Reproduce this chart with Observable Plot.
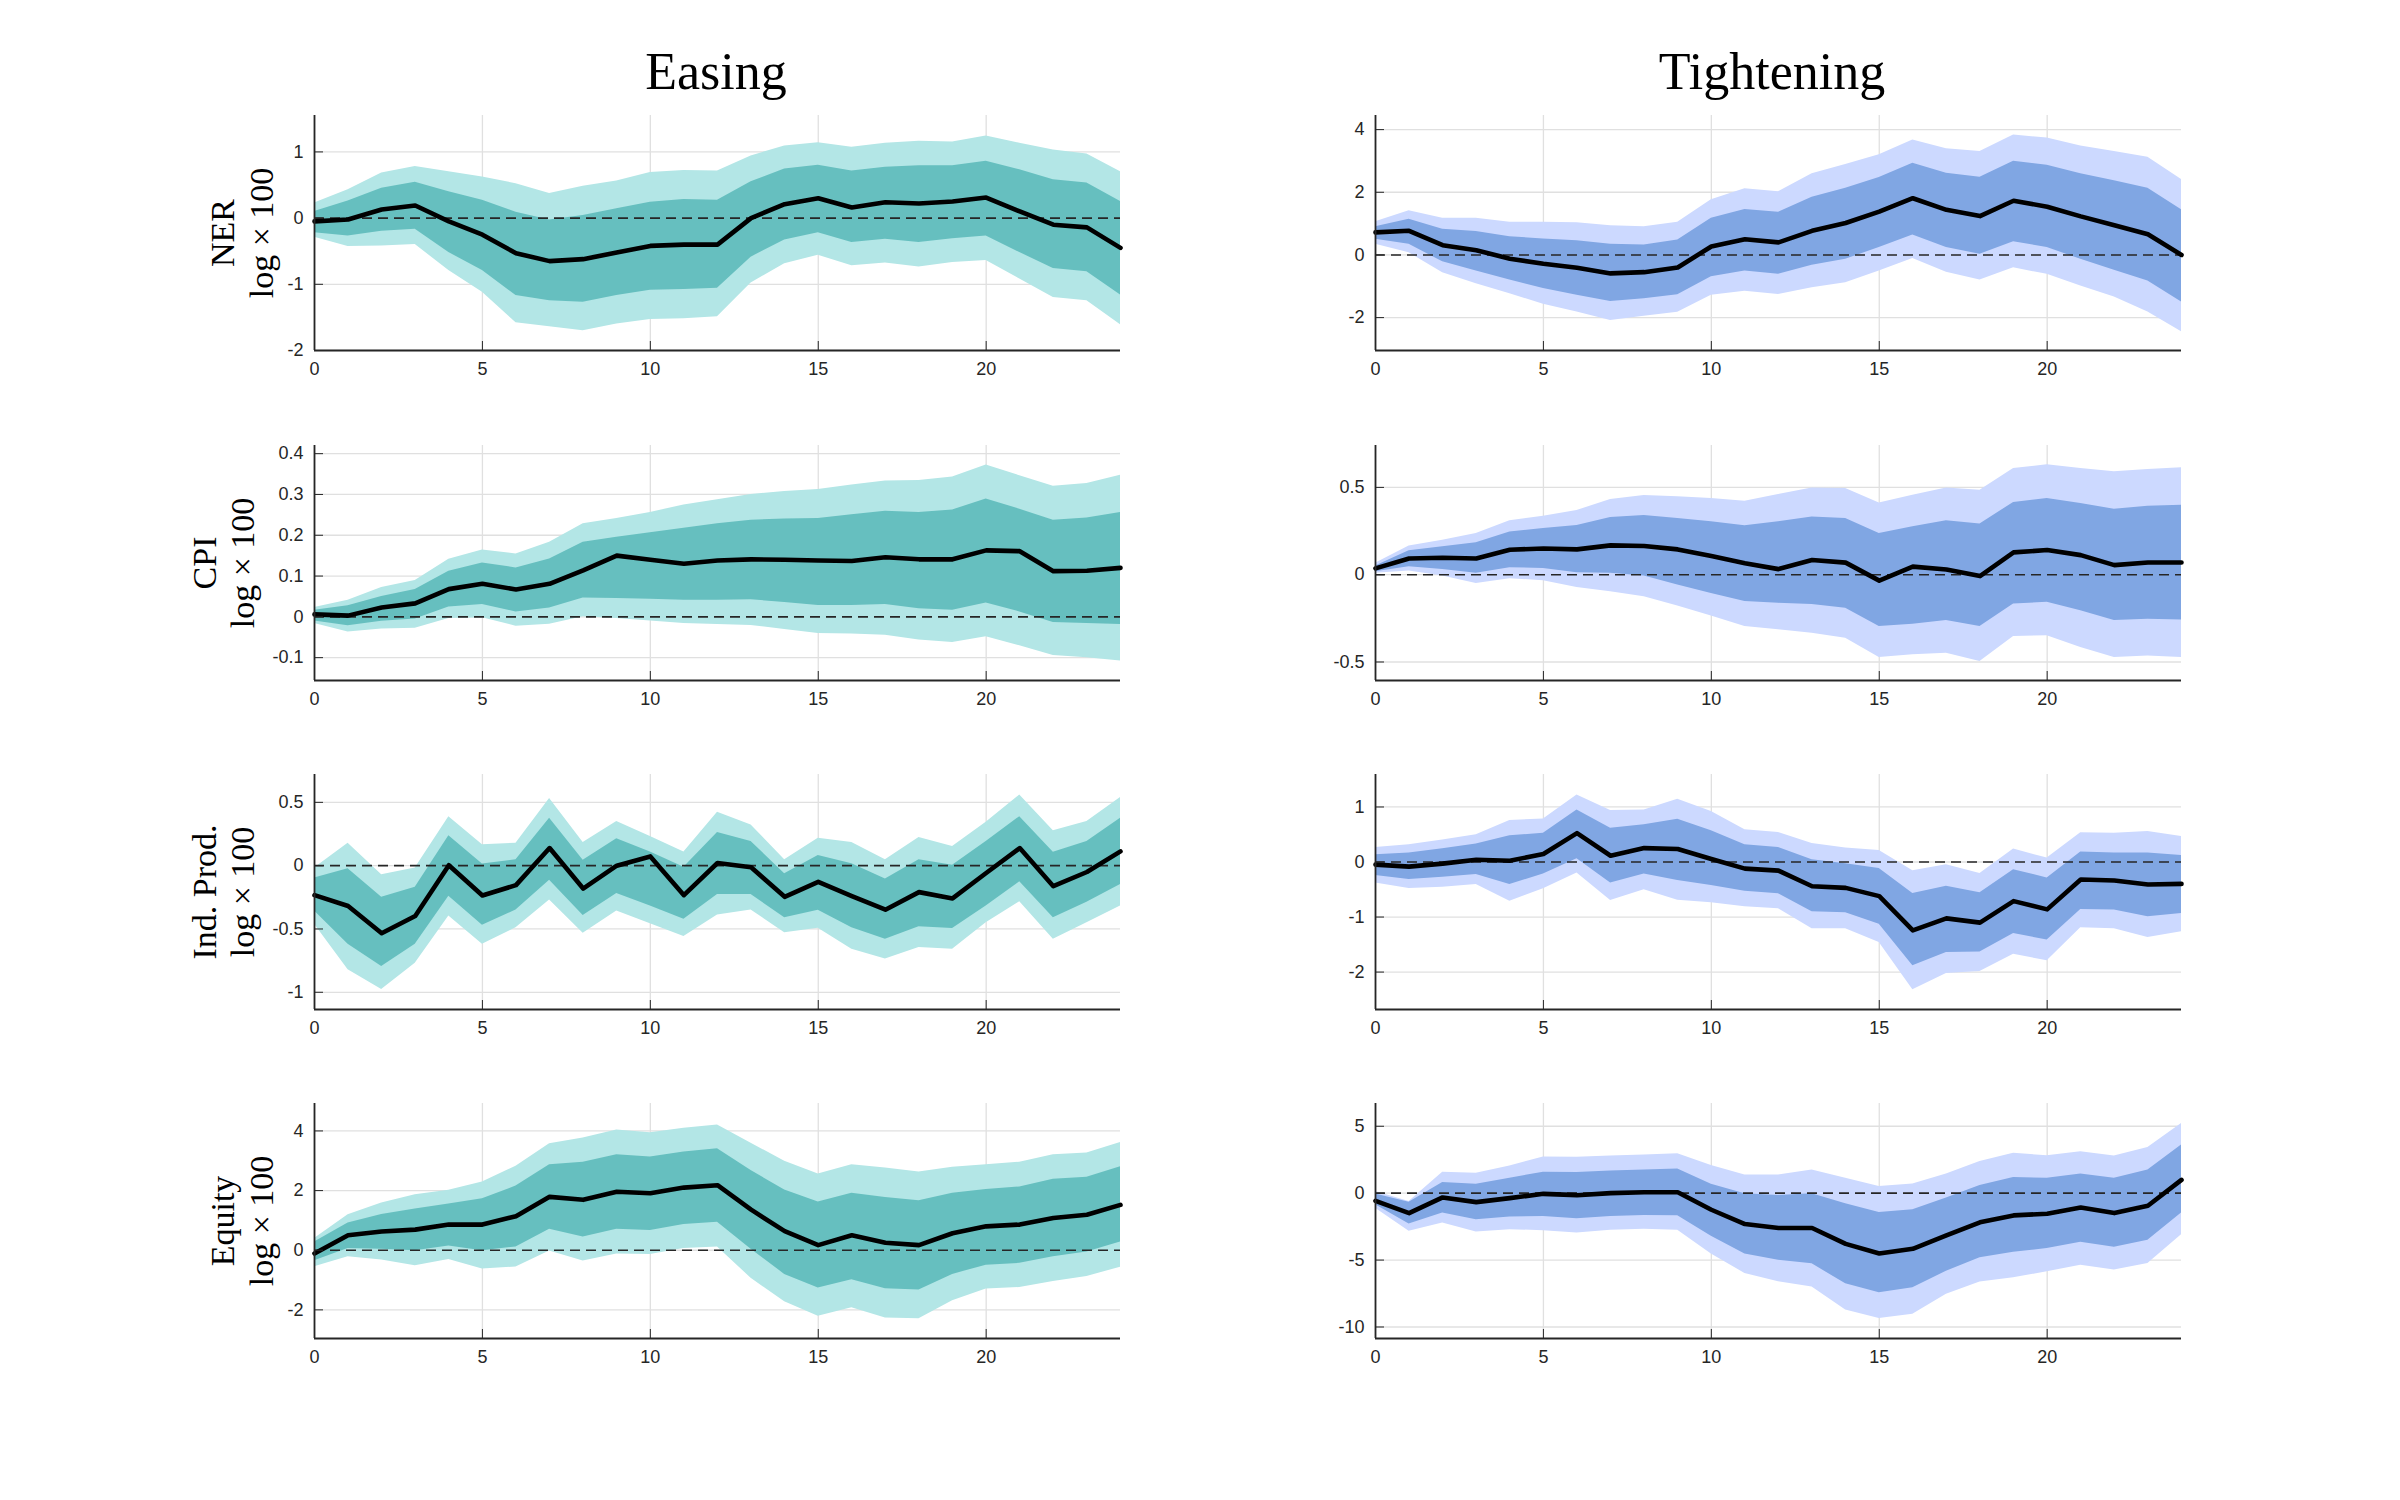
<!DOCTYPE html>
<html><head><meta charset="utf-8">
<script src="https://cdn.jsdelivr.net/npm/d3@7"></script>
<script src="https://cdn.jsdelivr.net/npm/@observablehq/plot@0.6"></script>
<style>
html,body{margin:0;padding:0;background:#fff;}
#wrap{position:relative;width:2400px;height:1500px;background:#fff;overflow:hidden;}
.title{position:absolute;font-family:"Liberation Serif",serif;font-size:52px;color:#000;transform:translate(-50%,0);white-space:nowrap;line-height:1;}
.ylab{position:absolute;font-family:"Liberation Serif",serif;font-size:34px;color:#000;transform:translate(-50%,-50%) rotate(-90deg);white-space:nowrap;line-height:1;}
.panel{position:absolute;}
</style></head><body><div id="wrap"></div>
<script>
// ---------- data ----------
const horizon = [0,1,2,3,4,5,6,7,8,9,10,11,12,13,14,15,16,17,18,19,20,21,22,23,24];
const xTicks = [0,5,10,15,20];
const columnTitles = ["Easing", "Tightening"];
const rowLabels = ["NER", "CPI", "Ind. Prod.", "Equity"];
const unitLabel = "log \u00d7 100";

// NER – Easing
const nerEaseMed   = [-0.05,-0.02,0.13,0.19,-0.05,-0.25,-0.53,-0.65,-0.62,-0.52,-0.42,-0.40,-0.40,0.00,0.21,0.30,0.16,0.24,0.22,0.25,0.31,0.10,-0.10,-0.14,-0.45];
const nerEaseInHi  = [0.10,0.26,0.45,0.54,0.40,0.27,0.09,-0.03,0.04,0.14,0.24,0.28,0.27,0.55,0.74,0.80,0.71,0.77,0.79,0.79,0.86,0.73,0.58,0.53,0.25];
const nerEaseInLo  = [-0.22,-0.27,-0.20,-0.17,-0.52,-0.79,-1.17,-1.25,-1.27,-1.17,-1.09,-1.08,-1.06,-0.59,-0.33,-0.22,-0.37,-0.32,-0.37,-0.31,-0.27,-0.52,-0.76,-0.81,-1.16];
const nerEaseOutHi = [0.23,0.43,0.68,0.78,0.70,0.62,0.52,0.37,0.48,0.56,0.69,0.72,0.71,0.94,1.09,1.14,1.07,1.13,1.16,1.15,1.24,1.13,1.03,0.97,0.70];
const nerEaseOutLo = [-0.29,-0.43,-0.42,-0.40,-0.79,-1.12,-1.58,-1.64,-1.70,-1.60,-1.53,-1.52,-1.49,-0.98,-0.69,-0.56,-0.72,-0.68,-0.74,-0.67,-0.64,-0.92,-1.20,-1.25,-1.61];

// NER – Tightening
const nerTightMed   = [0.72,0.77,0.31,0.15,-0.12,-0.28,-0.41,-0.59,-0.55,-0.40,0.27,0.50,0.40,0.77,1.02,1.38,1.81,1.44,1.24,1.73,1.54,1.23,0.95,0.66,0.00];
const nerTightInHi  = [0.90,1.14,0.82,0.75,0.58,0.51,0.45,0.34,0.32,0.48,1.17,1.45,1.36,1.84,2.13,2.47,2.93,2.61,2.48,2.99,2.86,2.59,2.37,2.13,1.44];
const nerTightInLo  = [0.50,0.34,-0.22,-0.51,-0.80,-1.07,-1.29,-1.49,-1.40,-1.27,-0.70,-0.51,-0.62,-0.33,-0.14,0.24,0.64,0.24,0.02,0.42,0.24,-0.14,-0.49,-0.83,-1.50];
const nerTightOutHi = [1.06,1.41,1.17,1.17,1.04,1.04,1.03,0.93,0.90,1.04,1.76,2.11,2.02,2.59,2.89,3.20,3.67,3.39,3.30,3.83,3.73,3.48,3.30,3.12,2.41];
const nerTightOutLo = [0.34,0.07,-0.57,-0.92,-1.24,-1.57,-1.82,-2.09,-1.96,-1.83,-1.29,-1.16,-1.26,-1.05,-0.89,-0.51,-0.11,-0.55,-0.80,-0.41,-0.62,-0.99,-1.34,-1.82,-2.45];

// CPI – Easing
const cpiEaseMed   = [0.006,0.003,0.023,0.033,0.068,0.081,0.067,0.081,0.114,0.150,0.140,0.130,0.138,0.141,0.140,0.138,0.137,0.146,0.141,0.141,0.163,0.161,0.112,0.113,0.120];
const cpiEaseInHi  = [0.016,0.027,0.050,0.067,0.112,0.132,0.120,0.142,0.183,0.195,0.206,0.217,0.228,0.237,0.240,0.241,0.250,0.259,0.256,0.262,0.289,0.264,0.237,0.242,0.256];
const cpiEaseInLo  = [-0.010,-0.022,-0.011,-0.005,0.024,0.030,0.012,0.022,0.046,0.045,0.043,0.041,0.041,0.042,0.035,0.028,0.028,0.030,0.020,0.016,0.034,0.012,-0.014,-0.016,-0.019];
const cpiEaseOutHi = [0.023,0.041,0.072,0.089,0.141,0.164,0.154,0.183,0.228,0.241,0.256,0.274,0.287,0.300,0.307,0.312,0.323,0.333,0.334,0.343,0.372,0.346,0.320,0.327,0.347];
const cpiEaseOutLo = [-0.016,-0.037,-0.030,-0.028,-0.004,-0.002,-0.023,-0.018,0.000,-0.004,-0.010,-0.016,-0.019,-0.021,-0.031,-0.041,-0.042,-0.045,-0.057,-0.063,-0.049,-0.071,-0.095,-0.100,-0.108];

// CPI – Tightening
const cpiTightMed   = [0.036,0.093,0.097,0.093,0.143,0.150,0.145,0.168,0.164,0.145,0.107,0.065,0.032,0.084,0.069,-0.034,0.046,0.030,-0.008,0.128,0.141,0.112,0.055,0.070,0.070];
const cpiTightInHi  = [0.050,0.137,0.160,0.183,0.244,0.265,0.282,0.328,0.339,0.322,0.303,0.280,0.303,0.331,0.322,0.236,0.274,0.309,0.290,0.414,0.436,0.408,0.375,0.392,0.398];
const cpiTightInLo  = [0.017,0.046,0.030,0.008,0.040,0.036,0.011,0.008,-0.008,-0.059,-0.107,-0.154,-0.164,-0.170,-0.192,-0.297,-0.284,-0.263,-0.297,-0.168,-0.158,-0.206,-0.263,-0.255,-0.259];
const cpiTightOutHi = [0.065,0.164,0.198,0.236,0.309,0.335,0.368,0.430,0.453,0.446,0.436,0.421,0.459,0.497,0.493,0.411,0.455,0.497,0.484,0.608,0.630,0.608,0.589,0.602,0.613];
const cpiTightOutLo = [0.008,0.021,-0.008,-0.050,-0.023,-0.034,-0.074,-0.097,-0.126,-0.179,-0.236,-0.297,-0.316,-0.335,-0.364,-0.474,-0.459,-0.450,-0.497,-0.354,-0.350,-0.417,-0.474,-0.465,-0.474];

// Ind. Prod. – Easing
const ipEaseMed   = [-0.233,-0.319,-0.534,-0.398,0.003,-0.236,-0.154,0.139,-0.181,0.000,0.073,-0.233,0.021,-0.013,-0.246,-0.128,-0.241,-0.348,-0.209,-0.259,-0.058,0.139,-0.162,-0.050,0.113];
const ipEaseInHi  = [-0.097,-0.024,-0.249,-0.170,0.236,0.013,0.047,0.374,0.042,0.212,0.107,-0.013,0.262,0.191,-0.063,0.081,0.016,-0.105,0.047,0.003,0.191,0.387,0.105,0.191,0.374];
const ipEaseInLo  = [-0.359,-0.620,-0.796,-0.620,-0.241,-0.471,-0.351,-0.115,-0.393,-0.220,-0.319,-0.424,-0.228,-0.228,-0.411,-0.353,-0.490,-0.581,-0.482,-0.497,-0.319,-0.128,-0.411,-0.288,-0.149];
const ipEaseOutHi = [-0.018,0.178,-0.071,-0.018,0.387,0.165,0.178,0.531,0.183,0.348,0.230,0.107,0.421,0.322,0.047,0.217,0.183,0.047,0.223,0.152,0.343,0.558,0.275,0.348,0.539];
const ipEaseOutLo = [-0.463,-0.822,-0.979,-0.770,-0.398,-0.620,-0.490,-0.272,-0.534,-0.359,-0.458,-0.560,-0.390,-0.351,-0.529,-0.495,-0.660,-0.738,-0.647,-0.660,-0.450,-0.285,-0.581,-0.450,-0.319];

// Ind. Prod. – Tightening
const ipTightMed   = [-0.048,-0.084,-0.030,0.042,0.024,0.145,0.524,0.114,0.253,0.235,0.054,-0.120,-0.157,-0.440,-0.470,-0.620,-1.241,-1.024,-1.102,-0.711,-0.861,-0.319,-0.337,-0.410,-0.398];
const ipTightInHi  = [0.133,0.163,0.241,0.325,0.476,0.524,0.946,0.614,0.675,0.777,0.566,0.313,0.265,0.042,-0.030,-0.120,-0.572,-0.440,-0.560,-0.139,-0.289,0.181,0.163,0.163,0.120];
const ipTightInLo  = [-0.247,-0.319,-0.277,-0.229,-0.410,-0.217,0.060,-0.380,-0.217,-0.337,-0.428,-0.530,-0.578,-0.904,-0.922,-1.133,-1.886,-1.645,-1.633,-1.301,-1.416,-0.861,-0.873,-0.994,-0.934];
const ipTightOutHi = [0.265,0.313,0.398,0.494,0.753,0.783,1.217,0.934,0.946,1.139,0.916,0.584,0.536,0.337,0.253,0.211,-0.157,-0.048,-0.211,0.235,0.072,0.530,0.524,0.554,0.464];
const ipTightOutLo = [-0.380,-0.482,-0.458,-0.410,-0.711,-0.488,-0.199,-0.699,-0.506,-0.693,-0.741,-0.813,-0.849,-1.211,-1.211,-1.464,-2.319,-2.024,-1.988,-1.675,-1.795,-1.193,-1.211,-1.373,-1.265];

// Equity – Easing
const eqEaseMed   = [-0.11,0.50,0.63,0.69,0.86,0.86,1.14,1.79,1.69,1.96,1.91,2.10,2.18,1.36,0.64,0.17,0.50,0.25,0.17,0.57,0.80,0.86,1.08,1.19,1.52];
const eqEaseInHi  = [0.28,0.91,1.20,1.38,1.55,1.73,2.15,2.87,2.95,3.20,3.13,3.29,3.40,2.67,2.02,1.62,1.91,1.77,1.66,1.91,2.04,2.12,2.38,2.45,2.80];
const eqEaseInLo  = [-0.35,0.06,0.03,-0.02,0.14,-0.02,0.11,0.70,0.44,0.70,0.66,0.86,0.94,0.03,-0.81,-1.27,-0.99,-1.29,-1.33,-0.81,-0.50,-0.44,-0.22,-0.06,0.28];
const eqEaseOutHi = [0.39,1.19,1.58,1.86,2.01,2.29,2.82,3.57,3.76,4.03,3.94,4.09,4.20,3.59,2.98,2.56,2.87,2.76,2.62,2.78,2.87,2.95,3.20,3.26,3.61];
const eqEaseOutLo = [-0.55,-0.22,-0.33,-0.52,-0.31,-0.63,-0.56,-0.03,-0.36,-0.13,-0.14,0.06,0.11,-0.94,-1.73,-2.21,-1.93,-2.27,-2.30,-1.69,-1.30,-1.25,-1.05,-0.88,-0.57];

// Equity – Tightening
const eqTightMed   = [-0.57,-1.49,-0.32,-0.67,-0.37,-0.05,-0.15,0.00,0.07,0.07,-1.24,-2.31,-2.60,-2.60,-3.79,-4.51,-4.16,-3.15,-2.18,-1.66,-1.54,-1.07,-1.49,-0.94,0.99];
const eqTightInHi  = [-0.07,-0.67,0.79,0.67,1.12,1.56,1.54,1.66,1.74,1.81,0.67,-0.05,-0.17,-0.05,-0.79,-1.44,-1.24,-0.37,0.57,1.17,1.12,1.44,1.12,1.74,3.60];
const eqTightInLo  = [-0.87,-2.31,-1.49,-1.98,-1.78,-1.74,-1.91,-1.74,-1.66,-1.69,-3.22,-4.54,-5.01,-5.28,-6.77,-7.44,-7.07,-5.83,-4.83,-4.41,-4.14,-3.67,-4.04,-3.52,-1.49];
const eqTightOutHi = [0.12,-0.62,1.56,1.49,2.03,2.70,2.68,2.78,2.85,2.95,2.06,1.36,1.36,1.74,1.12,0.50,0.69,1.44,2.36,2.98,2.80,3.10,2.78,3.42,5.21];
const eqTightOutLo = [-1.12,-2.85,-2.23,-2.90,-2.73,-2.80,-2.98,-2.78,-2.70,-2.78,-4.54,-6.00,-6.62,-7.02,-8.73,-9.37,-9.05,-7.56,-6.64,-6.32,-5.88,-5.38,-5.75,-5.26,-3.10];

// axis limits and tick values per panel
const nerEaseDomain = [-2, 1.55],     nerEaseTicks = [-2,-1,0,1];
const nerTightDomain = [-3.05, 4.45], nerTightTicks = [-2,0,2,4];
const cpiEaseDomain = [-0.156, 0.42], cpiEaseTicks = [-0.1,0,0.1,0.2,0.3,0.4];
const cpiTightDomain = [-0.606, 0.74],cpiTightTicks = [-0.5,0,0.5];
const ipEaseDomain = [-1.136, 0.72],  ipEaseTicks = [-1,-0.5,0,0.5];
const ipTightDomain = [-2.68, 1.59],  ipTightTicks = [-2,-1,0,1];
const eqEaseDomain = [-2.96, 4.92],   eqEaseTicks = [-2,0,2,4];
const eqTightDomain = [-10.86, 6.7],  eqTightTicks = [-10,-5,0,5];

// ---------- styling / layout ----------
const easeColors  = {outer: "#b3e6e6", inner: "#66bfbf"};
const tightColors = {outer: "#ccd9ff", inner: "#80a6e3"};

const panels = [
  {col:0,row:0,med:nerEaseMed,inHi:nerEaseInHi,inLo:nerEaseInLo,outHi:nerEaseOutHi,outLo:nerEaseOutLo,domain:nerEaseDomain,ticks:nerEaseTicks,c:easeColors},
  {col:1,row:0,med:nerTightMed,inHi:nerTightInHi,inLo:nerTightInLo,outHi:nerTightOutHi,outLo:nerTightOutLo,domain:nerTightDomain,ticks:nerTightTicks,c:tightColors},
  {col:0,row:1,med:cpiEaseMed,inHi:cpiEaseInHi,inLo:cpiEaseInLo,outHi:cpiEaseOutHi,outLo:cpiEaseOutLo,domain:cpiEaseDomain,ticks:cpiEaseTicks,c:easeColors},
  {col:1,row:1,med:cpiTightMed,inHi:cpiTightInHi,inLo:cpiTightInLo,outHi:cpiTightOutHi,outLo:cpiTightOutLo,domain:cpiTightDomain,ticks:cpiTightTicks,c:tightColors},
  {col:0,row:2,med:ipEaseMed,inHi:ipEaseInHi,inLo:ipEaseInLo,outHi:ipEaseOutHi,outLo:ipEaseOutLo,domain:ipEaseDomain,ticks:ipEaseTicks,c:easeColors},
  {col:1,row:2,med:ipTightMed,inHi:ipTightInHi,inLo:ipTightInLo,outHi:ipTightOutHi,outLo:ipTightOutLo,domain:ipTightDomain,ticks:ipTightTicks,c:tightColors},
  {col:0,row:3,med:eqEaseMed,inHi:eqEaseInHi,inLo:eqEaseInLo,outHi:eqEaseOutHi,outLo:eqEaseOutLo,domain:eqEaseDomain,ticks:eqEaseTicks,c:easeColors},
  {col:1,row:3,med:eqTightMed,inHi:eqTightInHi,inLo:eqTightInLo,outHi:eqTightOutHi,outLo:eqTightOutLo,domain:eqTightDomain,ticks:eqTightTicks,c:tightColors}
];

const colAxisX = [314, 1375];
const rowAxisTop = [115, 445, 774, 1103];
const plotW = 806, plotH = 235;
const mL = 70, mR = 20, mT = 10, mB = 45;
const AX = "#262626";

const wrap = document.getElementById("wrap");

function makePanel(p) {
  const rows = horizon.map((h, i) => ({h, med: p.med[i], il: p.inLo[i], ih: p.inHi[i], ol: p.outLo[i], oh: p.outHi[i]}));
  const fmt = d => String(d);
  return Plot.plot({
    width: plotW + mL + mR, height: plotH + mT + mB,
    marginLeft: mL, marginRight: mR, marginTop: mT, marginBottom: mB,
    style: {fontFamily: "'Liberation Sans', Arial, sans-serif", fontSize: "18px", color: AX, background: "transparent", overflow: "visible"},
    x: {domain: [0, 24]},
    y: {domain: p.domain},
    marks: [
      Plot.gridX(xTicks, {stroke: "#e0e0e0", strokeOpacity: 1, strokeWidth: 1.3}),
      Plot.gridY(p.ticks, {stroke: "#e0e0e0", strokeOpacity: 1, strokeWidth: 1.3}),
      Plot.areaY(rows, {x: "h", y1: "ol", y2: "oh", fill: p.c.outer}),
      Plot.areaY(rows, {x: "h", y1: "il", y2: "ih", fill: p.c.inner}),
      Plot.ruleY([0], {stroke: AX, strokeWidth: 1.6, strokeDasharray: "10,6"}),
      Plot.line(rows, {x: "h", y: "med", stroke: "#000", strokeWidth: 4.6}),
      Plot.ruleX([0], {stroke: AX, strokeWidth: 1.8}),
      Plot.ruleY([p.domain[0]], {stroke: AX, strokeWidth: 1.8}),
      Plot.axisX(xTicks, {tickSize: -9, tickPadding: 21, tickFormat: fmt, stroke: AX, fill: AX, label: null}),
      Plot.axisY(p.ticks, {tickSize: -9, tickPadding: 20, tickFormat: fmt, stroke: AX, fill: AX, label: null})
    ]
  });
}

panels.forEach(p => {
  const svg = makePanel(p);
  const div = document.createElement("div");
  div.className = "panel";
  div.style.left = (colAxisX[p.col] - mL) + "px";
  div.style.top = (rowAxisTop[p.row] - mT) + "px";
  div.appendChild(svg);
  wrap.appendChild(div);
});

// column titles
const titleX = [716, 1772];
columnTitles.forEach((t, i) => {
  const d = document.createElement("div");
  d.className = "title";
  d.textContent = t;
  d.style.left = titleX[i] + "px";
  d.style.top = "46px";
  wrap.appendChild(d);
});

// row labels (two lines, rotated)
const labelX = [[223, 262], [205, 243], [205, 243], [223, 262]];
rowLabels.forEach((t, r) => {
  const cy = rowAxisTop[r] + plotH / 2;
  [t, unitLabel].forEach((txt, k) => {
    const d = document.createElement("div");
    d.className = "ylab";
    d.textContent = txt;
    d.style.left = labelX[r][k] + "px";
    d.style.top = cy + "px";
    wrap.appendChild(d);
  });
});
</script>
</body></html>
